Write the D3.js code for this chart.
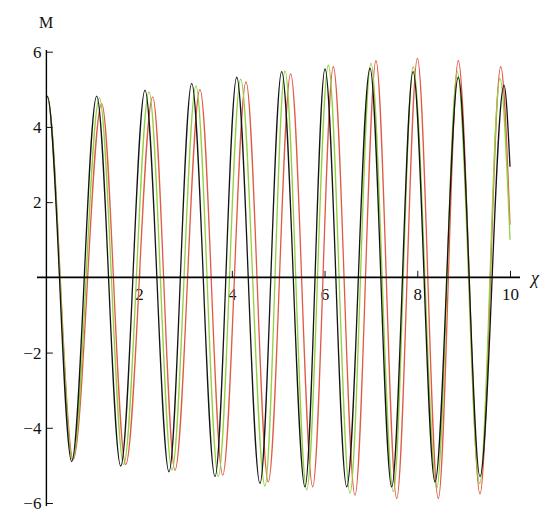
<!DOCTYPE html>
<html>
<head>
<meta charset="utf-8">
<script src="https://cdnjs.cloudflare.com/ajax/libs/d3/7.9.0/d3.min.js"></script>
<style>
  html, body { margin: 0; padding: 0; background: #fff; }
  svg { display: block; }
</style>
</head>
<body>
<div id="grafico"></div>
<script>
// valores: extremos (picos e vales) de cada curva, mais início e fim
const pretoX = [0, 0.02, 0.546, 1.085, 1.603, 2.127, 2.645, 3.134, 3.637, 4.105, 4.607, 5.075, 5.578, 6.01, 6.478, 6.98, 7.448, 7.91, 8.382, 8.885, 9.353, 9.87, 10];
const pretoY = [4.8, 4.82, -4.9, 4.82, -5.02, 4.98, -5.17, 5.16, -5.30, 5.32, -5.48, 5.47, -5.57, 5.54, -5.57, 5.56, -5.57, 5.47, -5.44, 5.32, -5.30, 5.11, 2.94];

const verdeX = [0, 0.02, 0.567, 1.143, 1.668, 2.213, 2.71, 3.227, 3.708, 4.19, 4.715, 5.146, 5.615, 6.081, 6.549, 7.0, 7.485, 7.91, 8.419, 8.863, 9.346, 9.784, 10];
const verdeY = [4.78, 4.8, -4.86, 4.77, -4.98, 4.93, -5.12, 5.09, -5.30, 5.27, -5.55, 5.49, -5.65, 5.64, -5.74, 5.69, -5.70, 5.60, -5.61, 5.47, -5.48, 5.29, 1.0];

const vermelhoX = [0, 0.02, 0.578, 1.193, 1.711, 2.293, 2.774, 3.313, 3.803, 4.306, 4.786, 5.269, 5.744, 6.189, 6.657, 7.109, 7.556, 8.003, 8.453, 8.885, 9.353, 9.80, 10];
const vermelhoY = [4.76, 4.78, -4.84, 4.62, -4.98, 4.8, -5.13, 5.0, -5.26, 5.2, -5.44, 5.41, -5.57, 5.6, -5.79, 5.76, -5.88, 5.82, -5.88, 5.76, -5.76, 5.6, 1.4];

const ticksX = [2, 4, 6, 8, 10];
const ticksY = [-6, -4, -2, 2, 4, 6];

const LARG = 550, ALT = 522;
const COR_VERMELHO = "#e05a45";
const COR_VERDE    = "#92d040";
const COR_PRETO    = "#141414";
const FONTE        = "'Liberation Serif', 'Times New Roman', serif";

const svg = d3.select("#grafico").append("svg")
  .attr("width", LARG)
  .attr("height", ALT);

const x = d3.scaleLinear().domain([0, 10]).range([46.4, 510]);
const y = d3.scaleLinear().domain([-6, 6]).range([503, 51.7]);

// ticks menores a cada 0.5
const menoresX = d3.range(0.5, 10.01, 0.5).filter(v => !ticksX.includes(v));
const menoresY = d3.range(-6, 6.01, 0.5).filter(v => v !== 0 && !ticksY.includes(v));

// --- eixo x ---
const gx = svg.append("g").attr("transform", `translate(0,${y(0)})`);
gx.call(d3.axisBottom(x).tickValues(menoresX).tickSize(-3.5).tickFormat(""));
gx.call(d3.axisBottom(x).tickValues(ticksX).tickSize(-6.5).tickPadding(11).tickFormat(d3.format("d")));

// --- eixo y ---
const gy = svg.append("g").attr("transform", `translate(${x(0)},0)`);
gy.call(d3.axisLeft(y).tickValues(menoresY).tickSize(-3.5).tickFormat(""));
gy.call(d3.axisLeft(y).tickValues(ticksY).tickSize(-6.5).tickPadding(5).tickFormat(d3.format("d")));

[gx, gy].forEach(g => {
  g.attr("font-family", FONTE).attr("font-size", 17);
  g.selectAll(".domain").remove();
  g.selectAll(".tick line").attr("stroke", "#111").attr("stroke-width", 1);
  g.selectAll(".tick text")
    .attr("font-family", FONTE)
    .attr("font-size", 17)
    .attr("fill", "#111");
});

// curvas
const linha = d3.line()
  .x(d => x(d[0]))
  .y(d => y(d[1]))
  .curve(d3.curveMonotoneX);

const series = [
  { xs: vermelhoX, ys: vermelhoY, cor: COR_VERMELHO },
  { xs: verdeX,    ys: verdeY,    cor: COR_VERDE },
  { xs: pretoX,    ys: pretoY,    cor: COR_PRETO },
];

series.forEach(s => {
  svg.append("path")
    .datum(s.xs.map((v, i) => [v, s.ys[i]]))
    .attr("d", linha)
    .attr("fill", "none")
    .attr("stroke", s.cor)
    .attr("stroke-width", 1.3);
});

// linhas dos eixos por cima das curvas
svg.append("line")
  .attr("x1", 37).attr("x2", 520)
  .attr("y1", y(0)).attr("y2", y(0))
  .attr("stroke", "#000").attr("stroke-width", 1.6);
svg.append("line")
  .attr("x1", x(0)).attr("x2", x(0))
  .attr("y1", 50).attr("y2", 506)
  .attr("stroke", "#000").attr("stroke-width", 1.4);

// rótulos dos eixos
svg.append("text")
  .attr("x", 46).attr("y", 28)
  .attr("text-anchor", "middle")
  .attr("font-family", FONTE)
  .attr("font-size", 16)
  .attr("fill", "#111")
  .text("M");

svg.append("text")
  .attr("x", 531).attr("y", 284)
  .attr("font-family", FONTE)
  .attr("font-style", "italic")
  .attr("font-size", 18)
  .attr("fill", "#111")
  .text("χ");
</script>
</body>
</html>
